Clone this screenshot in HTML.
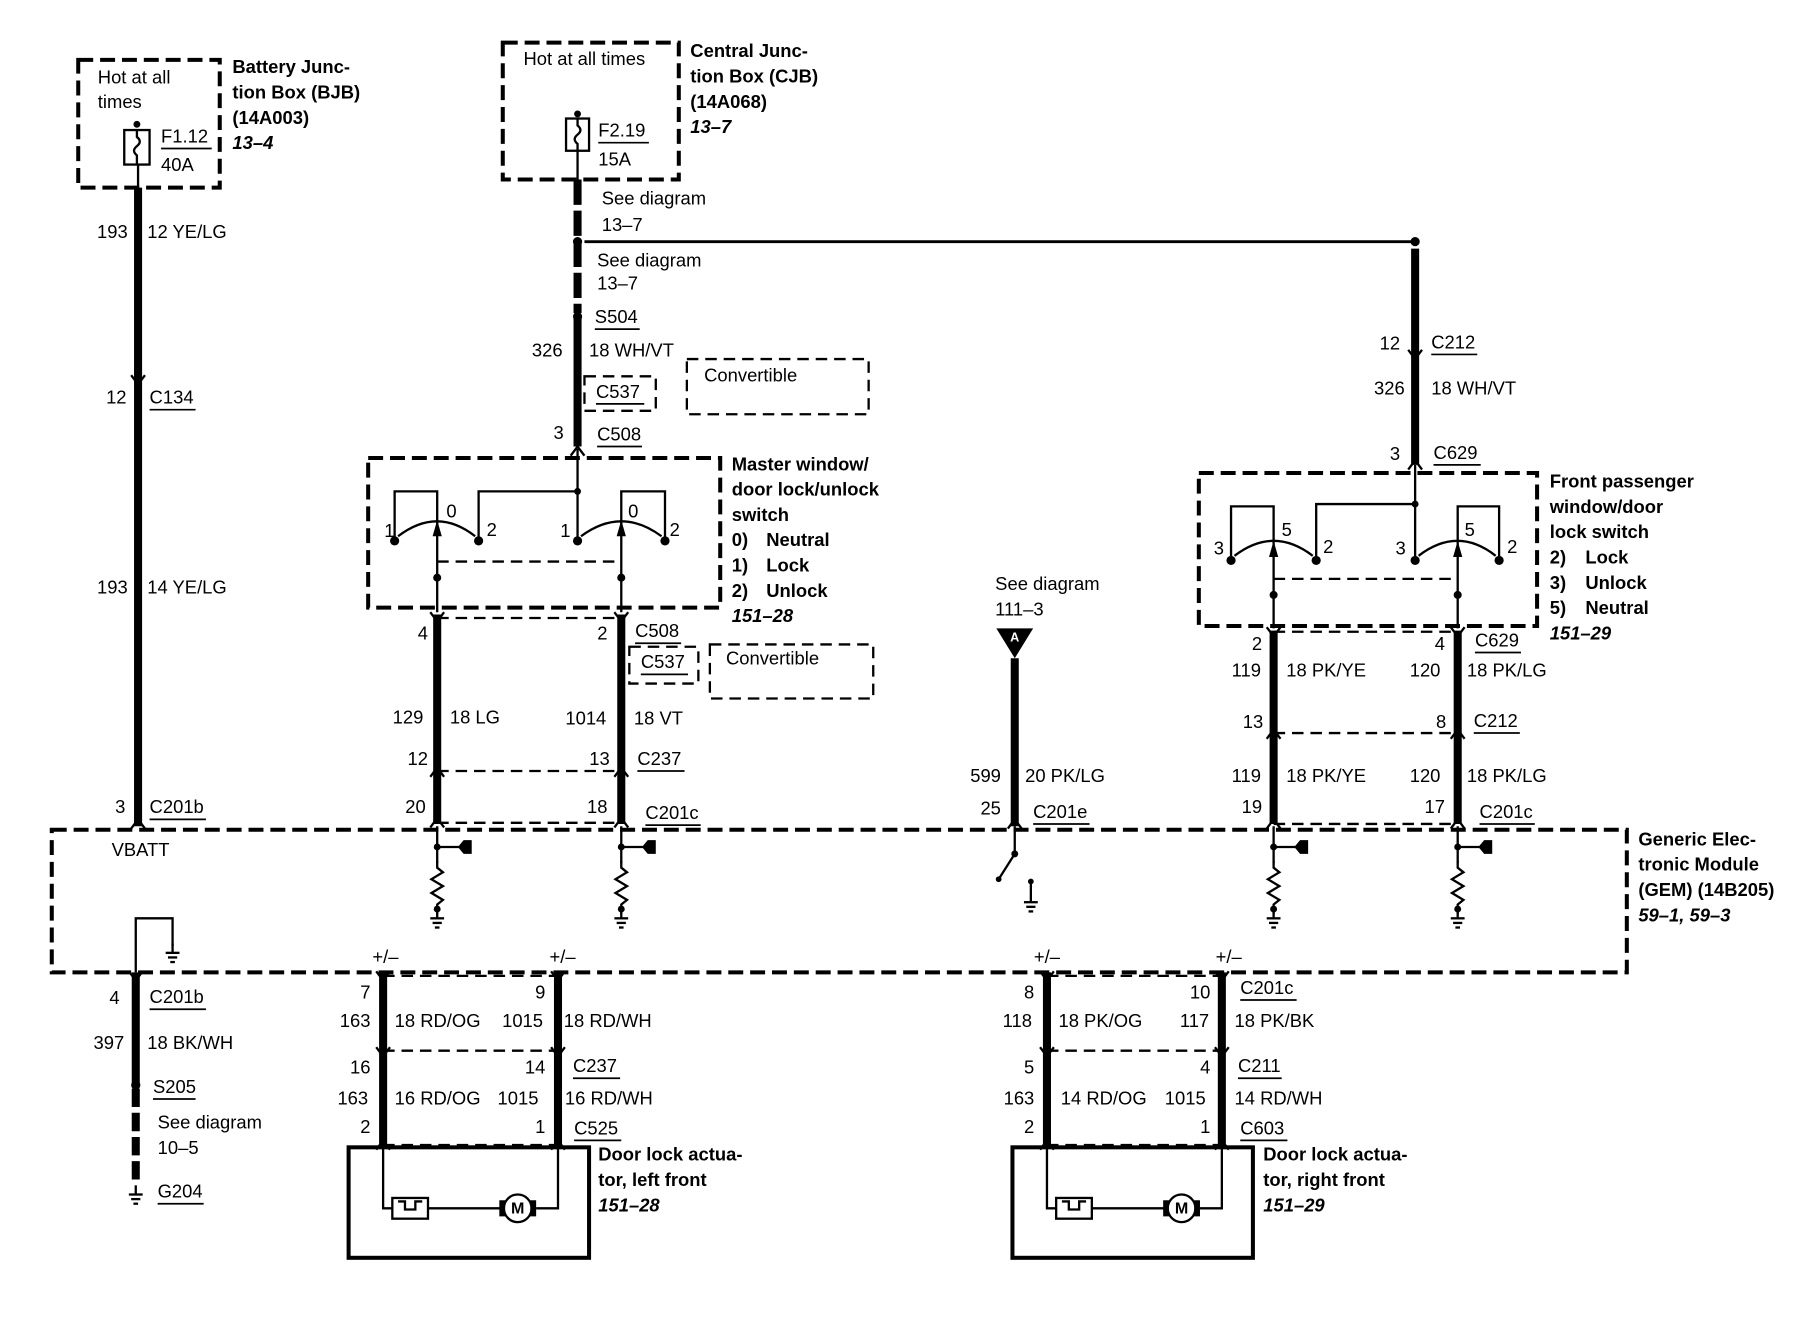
<!DOCTYPE html>
<html><head><meta charset="utf-8"><style>
html,body{margin:0;padding:0;background:#fff}
svg{display:block}
text{font-family:"Liberation Sans",sans-serif;font-size:16px;fill:#000;dominant-baseline:central}
.b{font-weight:bold}
.i{font-weight:bold;font-style:italic}
.r{text-anchor:end}
.d{fill:none;stroke:#000;stroke-width:3.5;stroke-dasharray:13,6}
.d2{fill:none;stroke:#000;stroke-width:2;stroke-dasharray:10,6}
.w{stroke:#000;stroke-width:7;fill:none}
.t{stroke:#000;stroke-width:2;fill:none}
.u{stroke:#000;stroke-width:1.5}
</style></head><body>
<svg width="1804" height="1328" viewBox="0 0 1568 1154" preserveAspectRatio="none" xmlns="http://www.w3.org/2000/svg">
<defs>
<g id="gnd"><line x1="0" y1="-8" x2="0" y2="0" class="t"/><line x1="-6" y1="0" x2="6" y2="0" class="t"/><line x1="-4" y1="4" x2="4" y2="4" class="t"/><line x1="-2" y1="8" x2="2" y2="8" class="t"/></g>
<g id="res"><polyline points="0,0 0,6 5,10 -5,16 5,22 -5,28 5,34 0,38 0,44" class="t"/></g>
<g id="up"><polyline points="-6,8 0,0 6,8" class="t"/></g>
<g id="dn"><polyline points="-6,-8 0,0 6,-8" class="t"/></g>
</defs>

<!-- BJB -->
<rect x="68" y="52" width="123" height="111" class="d"/>
<text x="85" y="67">Hot at all</text><text x="85" y="88">times</text>
<circle cx="119" cy="108" r="3"/>
<rect x="108" y="113" width="22" height="30" class="t"/>
<path d="M119,113 v6 q5,4 0,8 q-5,4 0,8 v8" class="t"/>
<text x="140" y="118">F1.12</text><line x1="140" y1="129" x2="184" y2="129" class="u"/><text x="140" y="143">40A</text>
<text x="202" y="58" class="b">Battery Junc-</text><text x="202" y="80" class="b">tion Box (BJB)</text><text x="202" y="102" class="b">(14A003)</text><text x="202" y="124" class="i">13–4</text>
<line x1="120" y1="143" x2="120" y2="163" class="t"/>
<line x1="120" y1="163" x2="120" y2="718" class="w"/>
<use href="#dn" x="120" y="334"/><use href="#up" x="120" y="712"/>
<text x="111" y="201" class="r">193</text><text x="128" y="201">12 YE/LG</text>
<text x="110" y="345" class="r">12</text><text x="130" y="345">C134</text><line x1="130" y1="356" x2="170" y2="356" class="u"/>
<text x="111" y="510" class="r">193</text><text x="128" y="510">14 YE/LG</text>
<text x="109" y="701" class="r">3</text><text x="130" y="701">C201b</text><line x1="130" y1="712" x2="179" y2="712" class="u"/>

<!-- CJB -->
<rect x="437" y="37" width="153" height="119" class="d"/>
<text x="455" y="51">Hot at all times</text>
<circle cx="502" cy="99" r="3"/>
<rect x="492" y="103" width="20" height="28" class="t"/>
<path d="M502,103 v6 q5,4 0,8 q-5,4 0,8 v6" class="t"/>
<text x="520" y="113">F2.19</text><line x1="520" y1="124" x2="564" y2="124" class="u"/><text x="520" y="138">15A</text>
<text x="600" y="44" class="b">Central Junc-</text><text x="600" y="66" class="b">tion Box (CJB)</text><text x="600" y="88" class="b">(14A068)</text><text x="600" y="110" class="i">13–7</text>
<line x1="502" y1="131" x2="502" y2="156" class="t"/>
<line x1="502" y1="156" x2="502" y2="272" class="w" stroke-dasharray="22,5"/>
<line x1="502" y1="275" x2="502" y2="388" class="w"/>
<circle cx="502" cy="210" r="4"/><circle cx="502" cy="275" r="4"/>
<line x1="508" y1="210" x2="1230" y2="210" stroke="#000" stroke-width="2.5"/>
<circle cx="1230" cy="210" r="4"/>
<text x="523" y="172">See diagram</text><text x="523" y="195">13–7</text>
<text x="519" y="226">See diagram</text><text x="519" y="246">13–7</text>
<text x="517" y="275">S504</text><line x1="517" y1="286" x2="556" y2="286" class="u"/>
<text x="489" y="304" class="r">326</text><text x="512" y="304">18 WH/VT</text>
<rect x="508" y="327" width="62" height="30" class="d2"/><text x="518" y="340">C537</text><line x1="518" y1="351" x2="560" y2="351" class="u"/>
<rect x="597" y="312" width="158" height="48" class="d2"/><text x="612" y="326">Convertible</text>
<text x="490" y="376" class="r">3</text><text x="519" y="377">C508</text><line x1="519" y1="388" x2="558" y2="388" class="u"/>
<use href="#up" x="502" y="388"/>

<!-- Master switch -->
<rect x="320" y="398" width="306" height="130" class="d"/>
<text x="636" y="403" class="b">Master window/</text><text x="636" y="425" class="b">door lock/unlock</text><text x="636" y="447" class="b">switch</text>
<text x="636" y="469" class="b">0)</text><text x="666" y="469" class="b">Neutral</text>
<text x="636" y="491" class="b">1)</text><text x="666" y="491" class="b">Lock</text>
<text x="636" y="513" class="b">2)</text><text x="666" y="513" class="b">Unlock</text>
<text x="636" y="535" class="i">151–28</text>
<line x1="502" y1="390" x2="502" y2="470" class="t"/><circle cx="502" cy="427" r="3"/>
<polyline points="416,470 416,427 502,427" class="t"/>
<polyline points="343,470 343,427 380,427 380,456" class="t"/>
<polyline points="540,456 540,427 578,427 578,470" class="t"/>
<path d="M346,466 Q380,440 413,466" class="t"/><path d="M505,466 Q540,440 575,466" class="t"/>
<circle cx="343" cy="470" r="4"/><circle cx="416" cy="470" r="4"/><circle cx="502" cy="470" r="4"/><circle cx="578" cy="470" r="4"/>
<polygon points="380,452 376,466 384,466"/><polygon points="540,452 536,466 544,466"/>
<line x1="380" y1="456" x2="380" y2="532" class="t"/><line x1="540" y1="456" x2="540" y2="532" class="t"/>
<line x1="380" y1="488" x2="540" y2="488" class="d2"/>
<circle cx="380" cy="502" r="3.5"/><circle cx="540" cy="502" r="3.5"/>
<text x="334" y="461">1</text><text x="388" y="444">0</text><text x="423" y="460">2</text>
<text x="487" y="461">1</text><text x="546" y="444">0</text><text x="582" y="460">2</text>
<line x1="380" y1="534" x2="380" y2="716" class="w"/><line x1="540" y1="534" x2="540" y2="716" class="w"/>
<line x1="380" y1="537" x2="540" y2="537" class="d2"/>
<line x1="380" y1="670" x2="540" y2="670" class="d2"/>
<line x1="380" y1="715" x2="540" y2="715" class="d2"/>
<use href="#dn" x="380" y="540"/><use href="#dn" x="540" y="540"/>
<use href="#up" x="380" y="667"/><use href="#up" x="540" y="667"/>
<use href="#up" x="380" y="711"/><use href="#up" x="540" y="711"/>
<text x="372" y="550" class="r">4</text><text x="528" y="550" class="r">2</text>
<text x="552" y="548">C508</text><line x1="552" y1="559" x2="592" y2="559" class="u"/>
<rect x="547" y="562" width="60" height="32" class="d2"/><text x="557" y="575">C537</text><line x1="557" y1="586" x2="598" y2="586" class="u"/>
<rect x="617" y="560" width="142" height="47" class="d2"/><text x="631" y="572">Convertible</text>
<text x="368" y="623" class="r">129</text><text x="391" y="623">18 LG</text>
<text x="527" y="624" class="r">1014</text><text x="551" y="624">18 VT</text>
<text x="372" y="659" class="r">12</text><text x="530" y="659" class="r">13</text>
<text x="554" y="659">C237</text><line x1="554" y1="670" x2="595" y2="670" class="u"/>
<text x="370" y="701" class="r">20</text><text x="528" y="701" class="r">18</text>
<text x="561" y="706">C201c</text><line x1="561" y1="717" x2="609" y2="717" class="u"/>

<!-- Center A -->
<text x="865" y="507">See diagram</text><text x="865" y="529">111–3</text>
<polygon points="866,546 898,546 882,572"/>
<text x="882" y="554" text-anchor="middle" style="fill:#fff;font-size:11px;font-weight:bold">A</text>
<line x1="882" y1="572" x2="882" y2="718" class="w"/>
<use href="#up" x="882" y="712"/>
<text x="870" y="674" class="r">599</text><text x="891" y="674">20 PK/LG</text>
<text x="870" y="702" class="r">25</text><text x="898" y="705">C201e</text><line x1="898" y1="716" x2="947" y2="716" class="u"/>

<!-- Right S269 -->
<line x1="1230" y1="216" x2="1230" y2="404" class="w"/>
<use href="#dn" x="1230" y="312"/><use href="#up" x="1230" y="400"/>
<text x="1217" y="298" class="r">12</text><text x="1244" y="297">C212</text><line x1="1244" y1="308" x2="1284" y2="308" class="u"/>
<text x="1221" y="337" class="r">326</text><text x="1244" y="337">18 WH/VT</text>
<text x="1217" y="394" class="r">3</text><text x="1246" y="393">C629</text><line x1="1246" y1="404" x2="1287" y2="404" class="u"/>

<!-- Front passenger switch -->
<rect x="1042" y="411" width="294" height="133" class="d"/>
<text x="1347" y="418" class="b">Front passenger</text><text x="1347" y="440" class="b">window/door</text><text x="1347" y="462" class="b">lock switch</text>
<text x="1347" y="484" class="b">2)</text><text x="1378" y="484" class="b">Lock</text>
<text x="1347" y="506" class="b">3)</text><text x="1378" y="506" class="b">Unlock</text>
<text x="1347" y="528" class="b">5)</text><text x="1378" y="528" class="b">Neutral</text>
<text x="1347" y="550" class="i">151–29</text>
<line x1="1230" y1="404" x2="1230" y2="487" class="t"/><circle cx="1230" cy="438" r="3"/>
<polyline points="1144,487 1144,438 1230,438" class="t"/>
<polyline points="1070,487 1070,440 1107,440 1107,475" class="t"/>
<polyline points="1267,475 1267,440 1303,440 1303,487" class="t"/>
<path d="M1073,483 Q1107,457 1141,483" class="t"/><path d="M1233,483 Q1267,457 1300,483" class="t"/>
<circle cx="1070" cy="487" r="4"/><circle cx="1144" cy="487" r="4"/><circle cx="1230" cy="487" r="4"/><circle cx="1303" cy="487" r="4"/>
<polygon points="1107,470 1103,484 1111,484"/><polygon points="1267,470 1263,484 1271,484"/>
<line x1="1107" y1="475" x2="1107" y2="546" class="t"/><line x1="1267" y1="475" x2="1267" y2="546" class="t"/>
<line x1="1107" y1="503" x2="1267" y2="503" class="d2"/>
<circle cx="1107" cy="517" r="3.5"/><circle cx="1267" cy="517" r="3.5"/>
<text x="1055" y="476">3</text><text x="1114" y="460">5</text><text x="1150" y="475">2</text>
<text x="1213" y="476">3</text><text x="1273" y="460">5</text><text x="1310" y="475">2</text>
<line x1="1107" y1="548" x2="1107" y2="716" class="w"/><line x1="1267" y1="548" x2="1267" y2="716" class="w"/>
<line x1="1107" y1="549" x2="1267" y2="549" class="d2"/>
<line x1="1107" y1="637" x2="1267" y2="637" class="d2"/>
<line x1="1107" y1="716" x2="1267" y2="716" class="d2"/>
<use href="#dn" x="1107" y="553"/><use href="#dn" x="1267" y="553"/>
<use href="#up" x="1107" y="634"/><use href="#up" x="1267" y="634"/>
<use href="#up" x="1107" y="712"/><use href="#up" x="1267" y="712"/>
<text x="1097" y="559" class="r">2</text><text x="1256" y="559" class="r">4</text>
<text x="1282" y="556">C629</text><line x1="1282" y1="567" x2="1322" y2="567" class="u"/>
<text x="1096" y="582" class="r">119</text><text x="1118" y="582">18 PK/YE</text>
<text x="1252" y="582" class="r">120</text><text x="1275" y="582">18 PK/LG</text>
<text x="1098" y="627" class="r">13</text><text x="1257" y="627" class="r">8</text>
<text x="1281" y="626">C212</text><line x1="1281" y1="637" x2="1321" y2="637" class="u"/>
<text x="1096" y="674" class="r">119</text><text x="1118" y="674">18 PK/YE</text>
<text x="1252" y="674" class="r">120</text><text x="1275" y="674">18 PK/LG</text>
<text x="1097" y="701" class="r">19</text><text x="1256" y="701" class="r">17</text>
<text x="1286" y="705">C201c</text><line x1="1286" y1="716" x2="1334" y2="716" class="u"/>

<!-- GEM -->
<rect x="45" y="721" width="1369" height="124" class="d"/>
<text x="97" y="738">VBATT</text>
<text x="1424" y="729" class="b">Generic Elec-</text><text x="1424" y="751" class="b">tronic Module</text><text x="1424" y="773" class="b">(GEM) (14B205)</text><text x="1424" y="795" class="i">59–1, 59–3</text>
<g id="inp">
<line x1="380" y1="718" x2="380" y2="750" class="t"/><circle cx="380" cy="736" r="3"/>
<line x1="380" y1="736" x2="405" y2="736" class="t"/><polygon points="403,730 410,730 410,742 403,742 398,736"/>
<use href="#res" x="380" y="748"/><line x1="380" y1="792" x2="380" y2="794" class="t"/>
<circle cx="380" cy="790" r="3"/><use href="#gnd" x="380" y="798"/>
</g>
<use href="#inp" x="160"/><use href="#inp" x="727"/><use href="#inp" x="887"/>
<line x1="882" y1="718" x2="882" y2="742" class="t"/><circle cx="882" cy="742" r="3"/>
<line x1="882" y1="742" x2="868" y2="764" class="t"/><circle cx="868" cy="764" r="2.5"/>
<circle cx="896" cy="766" r="2.5"/><line x1="896" y1="766" x2="896" y2="776" class="t"/><use href="#gnd" x="896" y="784"/>
<polyline points="118,845 118,798 150,798 150,822" class="t"/><use href="#gnd" x="150" y="828"/>
<text x="335" y="831" text-anchor="middle">+/–</text><text x="489" y="831" text-anchor="middle">+/–</text>
<text x="910" y="831" text-anchor="middle">+/–</text><text x="1068" y="831" text-anchor="middle">+/–</text>

<!-- bottom left ground -->
<line x1="118" y1="845" x2="118" y2="942" class="w"/>
<line x1="118" y1="946" x2="118" y2="1030" class="w" stroke-dasharray="16,5"/>
<circle cx="118" cy="943" r="4"/><use href="#dn" x="118" y="852"/>
<use href="#gnd" x="118" y="1038"/>
<text x="104" y="867" class="r">4</text><text x="130" y="866">C201b</text><line x1="130" y1="877" x2="179" y2="877" class="u"/>
<text x="108" y="906" class="r">397</text><text x="128" y="906">18 BK/WH</text>
<text x="133" y="944">S205</text><line x1="133" y1="955" x2="170" y2="955" class="u"/>
<text x="137" y="975">See diagram</text><text x="137" y="997">10–5</text>
<text x="137" y="1035">G204</text><line x1="137" y1="1046" x2="177" y2="1046" class="u"/>

<!-- Left actuator -->
<g id="act">
<line x1="333" y1="845" x2="333" y2="997" class="w"/><line x1="485" y1="845" x2="485" y2="997" class="w"/>
<line x1="333" y1="848" x2="485" y2="848" class="d2"/>
<line x1="333" y1="913" x2="485" y2="913" class="d2"/>
<line x1="333" y1="995" x2="485" y2="995" class="d2"/>
<use href="#dn" x="333" y="852"/><use href="#dn" x="485" y="852"/>
<use href="#dn" x="333" y="918"/><use href="#dn" x="485" y="918"/>
<use href="#up" x="333" y="991"/><use href="#up" x="485" y="991"/>
<rect x="303" y="997" width="209" height="96" stroke="#000" stroke-width="3.5" fill="none"/>
<polyline points="333,997 333,1050 341,1050" class="t"/>
<rect x="341" y="1041" width="31" height="18" class="t"/><polyline points="346,1044 352,1044 352,1051 361,1051 361,1044 367,1044" class="t" stroke-width="1.5"/>
<line x1="372" y1="1050" x2="436" y2="1050" class="t"/>
<rect x="434" y="1043" width="5" height="14"/><rect x="461" y="1043" width="5" height="14"/>
<circle cx="450" cy="1050" r="12" class="t" fill="#fff"/>
<text x="450" y="1050" text-anchor="middle" style="font-size:14px;font-weight:bold">M</text>
<polyline points="466,1050 485,1050 485,997" class="t"/>
</g>
<text x="322" y="862" class="r">7</text><text x="474" y="862" class="r">9</text>
<text x="322" y="887" class="r">163</text><text x="343" y="887">18 RD/OG</text>
<text x="472" y="887" class="r">1015</text><text x="490" y="887">18 RD/WH</text>
<text x="322" y="927" class="r">16</text><text x="474" y="927" class="r">14</text>
<text x="498" y="926">C237</text><line x1="498" y1="937" x2="539" y2="937" class="u"/>
<text x="320" y="954" class="r">163</text><text x="343" y="954">16 RD/OG</text>
<text x="468" y="954" class="r">1015</text><text x="491" y="954">16 RD/WH</text>
<text x="322" y="979" class="r">2</text><text x="474" y="979" class="r">1</text>
<text x="499" y="980">C525</text><line x1="499" y1="991" x2="540" y2="991" class="u"/>
<text x="520" y="1003" class="b">Door lock actua-</text><text x="520" y="1025" class="b">tor, left front</text><text x="520" y="1047" class="i">151–28</text>

<!-- Right actuator -->
<use href="#act" x="577"/>
<text x="899" y="862" class="r">8</text><text x="1052" y="862" class="r">10</text>
<text x="897" y="887" class="r">118</text><text x="920" y="887">18 PK/OG</text>
<text x="1051" y="887" class="r">117</text><text x="1073" y="887">18 PK/BK</text>
<text x="1078" y="858">C201c</text><line x1="1078" y1="869" x2="1127" y2="869" class="u"/>
<text x="899" y="927" class="r">5</text><text x="1052" y="927" class="r">4</text>
<text x="1076" y="926">C211</text><line x1="1076" y1="937" x2="1114" y2="937" class="u"/>
<text x="899" y="954" class="r">163</text><text x="922" y="954">14 RD/OG</text>
<text x="1048" y="954" class="r">1015</text><text x="1073" y="954">14 RD/WH</text>
<text x="899" y="979" class="r">2</text><text x="1052" y="979" class="r">1</text>
<text x="1078" y="980">C603</text><line x1="1078" y1="991" x2="1119" y2="991" class="u"/>
<text x="1098" y="1003" class="b">Door lock actua-</text><text x="1098" y="1025" class="b">tor, right front</text><text x="1098" y="1047" class="i">151–29</text>
</svg>
</body></html>
